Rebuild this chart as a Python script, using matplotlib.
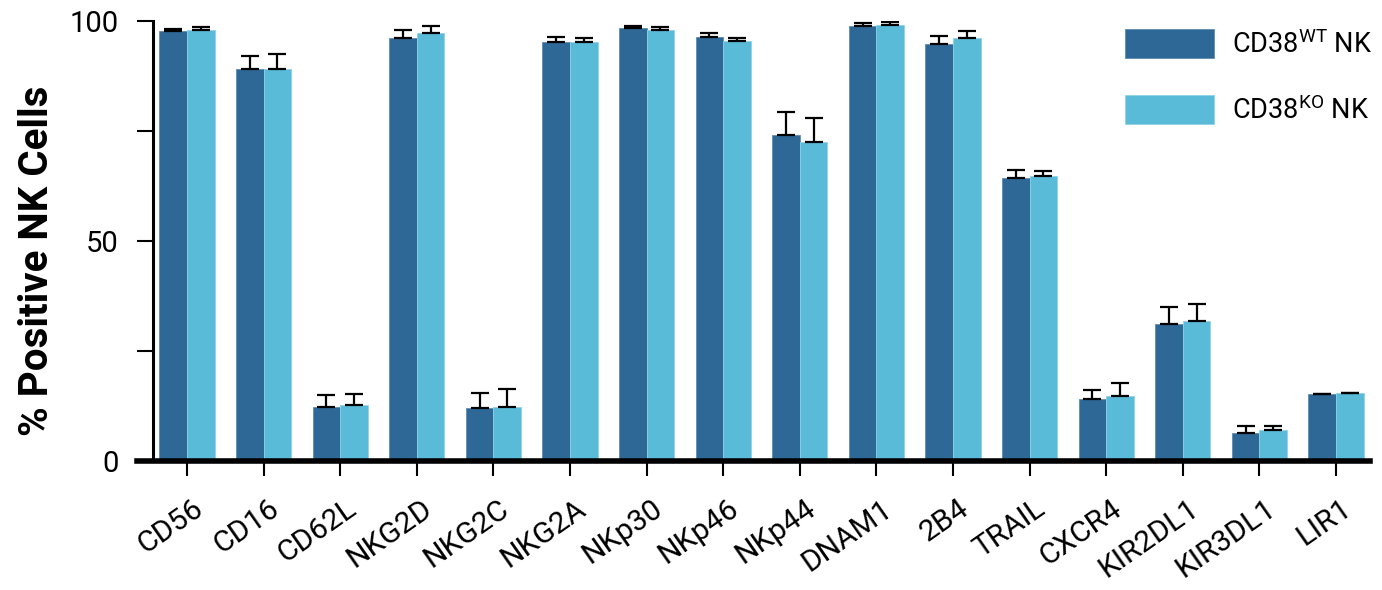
import matplotlib
matplotlib.use("Agg")
import matplotlib.pyplot as plt
from matplotlib.transforms import ScaledTranslation
import numpy as np

# marker names and % positive values
markers = ["CD56", "CD16", "CD62L", "NKG2D", "NKG2C", "NKG2A", "NKp30", "NKp46",
           "NKp44", "DNAM1", "2B4", "TRAIL", "CXCR4", "KIR2DL1", "KIR3DL1", "LIR1"]
wt_mean = [97.7, 89.0, 12.2, 96.1, 12.0, 95.2, 98.5, 96.4, 74.2, 98.9, 94.7, 64.4, 14.0, 31.1, 6.3, 15.3]
wt_err = [0.5, 3.0, 2.7, 1.9, 3.5, 1.2, 0.4, 0.8, 5.1, 0.6, 1.9, 1.7, 2.1, 3.8, 1.6, 0.0]
ko_mean = [98.0, 89.0, 12.7, 97.3, 12.3, 95.2, 98.0, 95.5, 72.4, 99.2, 96.1, 64.8, 14.8, 31.8, 7.0, 15.5]
ko_err = [0.6, 3.6, 2.5, 1.6, 4.1, 0.9, 0.6, 0.7, 5.6, 0.6, 1.6, 1.0, 2.9, 3.9, 1.0, 0.0]

dark = "#2d6896"
light = "#5abbd9"

plt.rcParams["font.family"] = ["Roboto", "DejaVu Sans"]
plt.rcParams["mathtext.fontset"] = "custom"
plt.rcParams["mathtext.rm"] = "Roboto"

fig = plt.figure(figsize=(13.82, 5.9), dpi=100)
ax = fig.add_axes([153 / 1382, 1 - 461 / 590, 1217 / 1382, 440 / 590])

x = np.arange(len(markers))
w = 0.36
ax.bar(x - w / 2, wt_mean, w, color=dark, edgecolor="#5b8db4", linewidth=0.6,
       label="CD38$^{\\mathrm{WT}}$ NK")
ax.bar(x + w / 2, ko_mean, w, color=light, edgecolor="#8fd3ea", linewidth=0.6,
       label="CD38$^{\\mathrm{KO}}$ NK")
ax.errorbar(x - w / 2, wt_mean, yerr=[np.zeros(len(x)), wt_err], fmt="none",
            ecolor="black", elinewidth=1.6, capsize=6.5, capthick=1.6, zorder=1)
ax.errorbar(x + w / 2, ko_mean, yerr=[np.zeros(len(x)), ko_err], fmt="none",
            ecolor="black", elinewidth=1.6, capsize=6.5, capthick=1.6, zorder=1)

ax.set_xlim(-0.444, 15.444)
ax.set_ylim(0, 100)

# axes styling
for side in ["top", "right", "bottom"]:
    ax.spines[side].set_visible(False)
ax.spines["left"].set_linewidth(2.2)
ax.axhline(0, xmin=-16 / 1217, xmax=1, color="black", lw=4, clip_on=False, zorder=5)

ax.set_yticks([0, 25, 50, 75, 100])
ax.set_yticklabels(["0", "", "50", "", "100"])
ax.tick_params(axis="y", length=11.5, width=1.5, labelsize=21, pad=13)
ax.set_xticks(x)
ax.set_xticklabels(markers, rotation=35, ha="right", rotation_mode="anchor")
ax.tick_params(axis="x", length=11, width=1.5, labelsize=21.5, pad=13)
for lbl in ax.get_xticklabels():
    lbl.set_transform(lbl.get_transform() + ScaledTranslation(5 / 100, 0, fig.dpi_scale_trans))

ax.set_ylabel("% Positive NK Cells", fontsize=29, fontweight="bold")
ax.yaxis.set_label_coords(-0.080, 0.455)

ax.legend(loc="upper left", bbox_to_anchor=(1125 / 1382, 1 - 29 / 590),
          bbox_transform=fig.transFigure, frameon=False, fontsize=19.5,
          handlelength=3.3, handleheight=1.26, labelspacing=1.35,
          handletextpad=0.66, borderpad=0, borderaxespad=0)

fig.savefig("out.png", dpi=100)
